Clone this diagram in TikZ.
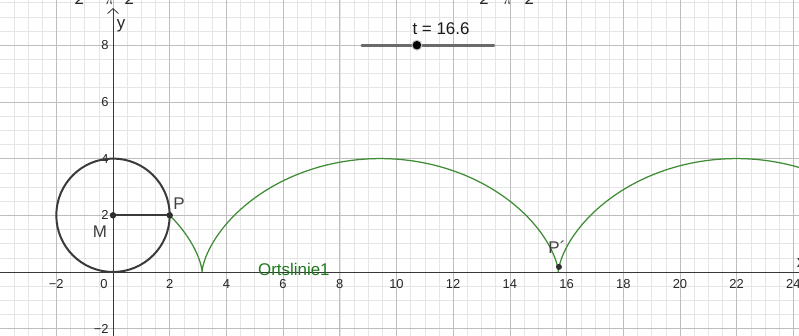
\documentclass[tikz,border=0pt]{standalone}
\usepackage{fontspec}
\setmainfont{Liberation Sans}
\usetikzlibrary{arrows.meta}
\definecolor{locus}{RGB}{62,140,52}
\definecolor{locustext}{RGB}{30,120,30}
\definecolor{circ}{RGB}{58,58,58}
\begin{document}
\begin{tikzpicture}[x=1cm,y=1cm,
  minorgrid/.style={draw=black!10, line width=0.5pt},
  majorgrid/.style={draw=black!26, line width=0.6pt},
  axisline/.style={draw=black!78, line width=0.8pt},
  ticklab/.style={font=\fontsize{13}{13}\selectfont, text=black!85, inner sep=0pt},
  ptlabel/.style={font=\fontsize{17}{17}\selectfont, text=black!75, inner sep=0pt},
  dotpt/.style={circle, fill=black!82, inner sep=0pt, minimum size=6.5pt},
  toplab/.style={font=\fontsize{17}{17}\selectfont\itshape, anchor=base, inner sep=0pt, text=black!85}]
\useasboundingbox (-3.986,-2.257) rectangle (24.198,9.594);
\clip (-3.986,-2.257) rectangle (24.198,9.594);
% grid
\draw[minorgrid] (-4,-2.5) grid[step=0.5] (24.5,10);
\draw[majorgrid] (-4,-2.5) grid[step=2] (24.5,10);
% axes
\coordinate (xa0) at (-4.2,0);
\coordinate (xa1) at (24.6,0);
\coordinate (ya0) at (0,-2.5);
\coordinate (ya1) at (0,9.31);
\draw[axisline, -{Straight Barb[length=5pt,width=11pt]}] (xa0) -- (xa1);
\draw[axisline, -{Straight Barb[length=5pt,width=11pt]}] (ya0) -- (ya1);
\node[ptlabel, text=black!85] (xlab) at (24.27,0.3) {x};
\node[ptlabel, text=black!85] (ylab) at (0.29,8.68) {y};
% x tick labels
\node[ticklab] (xtm2) at (-2,-0.42) {−2};
\node[ticklab] (xt0) at (-0.32,-0.42) {0};
\foreach \k in {2,4,...,24} \node[ticklab] (xt\k) at (\k,-0.42) {\k};
% y tick labels
\foreach \k in {2,4,6,8} \node[ticklab, anchor=east] (yt\k) at (-0.15,\k) {\k};
\node[ticklab, anchor=east] (ytm2) at (-0.15,-2.02) {−2};
% top cut-off fragments
\node[toplab] (f1) at (-1.16,9.42) {2};
\node[toplab] (f2) at (-0.11,9.42) {$\pi$};
\node[toplab] (f3) at (0.6,9.42) {2};
\node[toplab] (f4) at (13.12,9.42) {2};
\node[toplab] (f5) at (13.93,9.42) {$\pi$};
\node[toplab] (f6) at (14.71,9.42) {2};
% locus (cycloid)
\draw[locus, line width=1.25pt] plot[domain=-1.5708:10.3, samples=400, variable=\s]
  ({2*(\s - sin(\s r)) + pi}, {2*(1 - cos(\s r))});
\node[font=\fontsize{17}{17}\selectfont, text=locustext, inner sep=0pt] (ort) at (6.38,0.1) {Ortslinie1};
% circle and radius
\coordinate (M) at (0,2);
\coordinate (P) at (2,2);
\draw[circ, line width=2pt] (M) circle (2);
\draw[circ, line width=2pt] (M) -- (P);
\node[dotpt] (Mdot) at (M) {};
\node[dotpt] (Pdot) at (P) {};
\node[ptlabel] (Mlab) at (-0.46,1.41) {M};
\node[ptlabel] (Plab) at (2.33,2.4) {P};
% P'
\node[dotpt, minimum size=6pt] (Pp) at (15.73,0.18) {};
\node[ptlabel] (Pplab) at (15.66,0.88) {P´};
% slider
\coordinate (s0) at (8.78,8);
\coordinate (s1) at (13.44,8);
\draw[line width=2.8pt, black!58, line cap=round] (s0) -- (s1);
\node[circle, fill=black!25, inner sep=0pt, minimum size=11pt] (thalo) at (10.72,8) {};
\node[circle, fill=black, inner sep=0pt, minimum size=8.5pt] (tdot) at (10.72,8) {};
\node[font=\fontsize{17}{17}\selectfont, text=black!90, inner sep=0pt] (tlab) at (11.57,8.57) {t = 16.6};
\end{tikzpicture}
\end{document}
